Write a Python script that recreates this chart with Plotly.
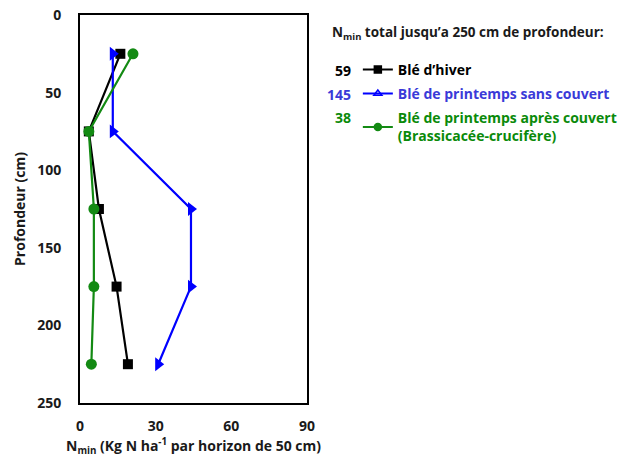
import plotly.graph_objects as go

depth = [25, 75, 125, 175, 225]
ble_hiver = [16, 3.5, 7.5, 14.5, 19]
ble_printemps_sans = [13, 13, 44, 44, 31]
ble_printemps_apres = [21, 3.5, 5.5, 5.5, 4.5]
totals = ["59", "145", "38"]
names = ["Blé d’hiver", "Blé de printemps sans couvert",
         "Blé de printemps après couvert<br>(Brassicacée-crucifère)"]
colors = ["#000000", "#3a3ad8", "#0a8a0a"]
line_colors = ["#000000", "#0000ff", "#138a13"]
x_ticks = [0, 30, 60, 90]
y_ticks = [0, 50, 100, 150, 200, 250]

FONT = "Open Sans"
fig = go.Figure()

series = [ble_hiver, ble_printemps_sans, ble_printemps_apres]
symbols = ["square", "triangle-right", "circle"]
legend_symbols = ["square", "triangle-up-open", "circle"]
sizes = [10, 12, 11]
for i, s in enumerate(series):
    fig.add_trace(go.Scatter(
        x=s, y=depth, mode="lines+markers", showlegend=False,
        line=dict(color=line_colors[i], width=2.2),
        marker=dict(symbol=symbols[i], size=sizes[i], color=line_colors[i]),
    ))
for i in range(3):
    fig.add_trace(go.Scatter(
        x=[None], y=[None], mode="lines+markers",
        name=f"<span style='color:{colors[i]}'>{names[i]}</span>",
        legendgroup=f"g{i}",
        line=dict(color=line_colors[i], width=2),
        marker=dict(symbol=legend_symbols[i], size=7, color=line_colors[i],
                    line=dict(color=line_colors[i], width=1.5)),
    ))

fig.update_layout(
    width=633, height=457,
    margin=dict(l=80, r=326, t=15, b=54, autoexpand=False),
    paper_bgcolor="white", plot_bgcolor="white",
    font=dict(family=FONT, size=13, color="#1a1a1a"),
    showlegend=True,
    legend=dict(x=1.224, y=0.900, xanchor="left", yanchor="top",
                traceorder="grouped", tracegroupgap=3,
                font=dict(family=FONT, size=14, weight=700),
                itemwidth=30, bgcolor="rgba(0,0,0,0)"),
)
fig.update_xaxes(range=[0, 90], tickvals=x_ticks, showgrid=False, zeroline=False,
                 showline=True, linecolor="black", linewidth=2, mirror=True,
                 automargin=False, ticks="", ticklabelstandoff=9,
                 ticklabeloverflow="allow",
                 tickfont=dict(family=FONT, size=14, weight=700),
                 title=dict(text="N<sub>min</sub> (Kg N ha<sup>-1</sup> par horizon de 50 cm)",
                            font=dict(family=FONT, size=14, weight=700), standoff=3))
fig.update_yaxes(range=[250, 0], tickvals=y_ticks, showgrid=False, zeroline=False,
                 showline=True, linecolor="black", linewidth=2, mirror=True,
                 automargin=False, ticks="", ticklabelstandoff=14,
                 ticklabeloverflow="allow",
                 tickfont=dict(family=FONT, size=14, weight=700),
                 title=dict(text="Profondeur (cm)",
                            font=dict(family=FONT, size=14, weight=700), standoff=8))

fig.add_annotation(xref="paper", yref="paper", x=1.101, y=0.954, xanchor="left",
                   yanchor="middle", showarrow=False,
                   text="N<sub>min</sub> total jusqu’a 250 cm de profondeur:",
                   font=dict(family=FONT, size=13.5, weight=700, color="#1a1a1a"))
row_y = [0.858, 0.794, 0.735]
for i in range(3):
    fig.add_annotation(xref="paper", yref="paper", x=1.203, y=row_y[i], xanchor="right",
                       yanchor="middle", showarrow=False, text=totals[i],
                       font=dict(family=FONT, size=14, weight=700, color=colors[i]))

# remove the browser's default 8px body margin so the figure sits at (0, 0)
fig.write_html("out.html", config={"displayModeBar": False},
               post_script="document.body.style.margin='0';")
